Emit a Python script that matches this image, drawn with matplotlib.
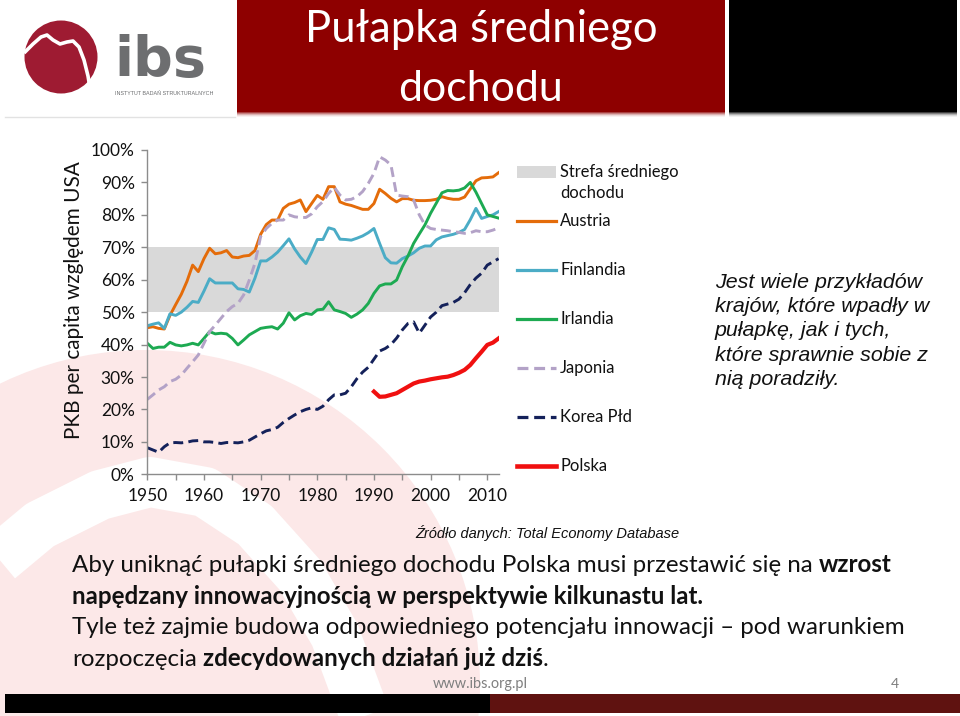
import matplotlib
matplotlib.use("Agg")
import matplotlib.pyplot as plt
from matplotlib.patches import Rectangle, Circle
from matplotlib.lines import Line2D
from matplotlib.ticker import MultipleLocator, FuncFormatter

# --- data (share of US GDP per capita, %) ---
years = list(range(1950, 2013))
austria = [45.2, 45.5, 45.0, 44.8, 49.0, 52.3, 55.5, 59.5, 64.5, 62.5,
           66.5, 69.7, 68.0, 68.3, 69.0, 67.0, 66.8, 67.3, 67.5, 69.0,
           74.0, 77.0, 78.4, 78.4, 82.0, 83.3, 83.8, 84.6, 81.0, 83.5,
           86.0, 84.8, 88.7, 88.7, 84.0, 83.3, 82.9, 82.3, 81.7, 81.7,
           83.5, 87.9, 86.6, 85.1, 84.0, 85.0, 85.0, 84.5, 84.4, 84.4,
           84.5, 84.8, 85.6, 85.1, 84.8, 84.8, 85.5, 88.0, 90.5, 91.4,
           91.5, 91.7, 93.0]
finlandia = [45.8, 46.3, 46.7, 45.0, 49.5, 49.0, 50.0, 51.5, 53.3, 53.0,
             56.5, 60.3, 59.0, 59.0, 59.0, 59.0, 57.2, 57.0, 56.2, 60.5,
             65.8, 65.8, 67.0, 68.5, 70.5, 72.6, 69.5, 67.0, 65.0, 68.5,
             72.4, 72.4, 76.0, 75.5, 72.5, 72.4, 72.2, 72.8, 73.5, 74.5,
             75.8, 71.2, 66.8, 65.2, 65.1, 66.5, 67.3, 68.3, 69.7, 70.4,
             70.4, 72.3, 73.2, 73.6, 74.0, 74.6, 75.5, 78.5, 82.0, 78.9,
             79.5, 80.0, 81.0]
irlandia = [40.4, 38.8, 39.2, 39.2, 40.7, 39.9, 39.6, 39.9, 40.4, 39.9,
            41.9, 44.0, 43.3, 43.5, 43.3, 41.9, 39.9, 41.4, 43.0, 44.0,
            45.0, 45.3, 45.5, 44.8, 46.6, 49.8, 47.6, 48.9, 49.6, 49.3,
            50.7, 50.9, 53.2, 50.7, 50.2, 49.6, 48.4, 49.4, 50.7, 52.7,
            55.8, 58.1, 58.7, 58.7, 59.9, 64.0, 67.3, 71.2, 74.1, 76.9,
            80.5, 83.6, 86.8, 87.5, 87.4, 87.6, 88.3, 90.0, 87.0, 83.5,
            80.0, 79.5, 79.0]
japonia = [23.1, 24.5, 26.0, 27.0, 28.6, 29.3, 30.6, 32.7, 34.7, 36.8,
           40.4, 44.0, 46.0, 48.1, 50.2, 51.7, 52.7, 55.3, 59.9, 65.1,
           73.3, 75.8, 77.4, 78.4, 78.4, 80.0, 79.4, 79.2, 79.2, 80.3,
           82.5, 84.1, 86.6, 88.5, 86.1, 84.6, 84.8, 85.6, 87.2, 89.7,
           92.8, 97.9, 96.9, 95.4, 86.1, 85.8, 85.6, 84.6, 80.0, 76.9,
           75.8, 75.5, 75.3, 75.1, 74.8, 74.6, 74.3, 74.5, 75.1, 74.8,
           74.8, 75.3, 76.0]
korea = [8.2, 7.5, 6.8, 8.5, 9.7, 9.8, 9.7, 9.9, 10.3, 10.4,
         10.0, 10.0, 9.8, 9.5, 9.8, 9.8, 9.7, 10.0, 10.5, 11.5,
         12.5, 13.4, 13.8, 14.5, 16.0, 17.2, 18.3, 19.3, 20.0, 20.5,
         20.0, 21.0, 23.0, 24.5, 24.5, 25.0, 27.0, 29.5, 31.5, 33.0,
         35.5, 38.0, 38.8, 40.0, 42.0, 44.5, 46.5, 47.0, 43.5, 46.0,
         48.5, 50.0, 52.0, 52.5, 53.0, 54.0, 56.0, 58.5, 60.5, 62.0,
         64.5, 65.5, 66.5]
polska_years = list(range(1990, 2013))
polska = [25.5, 23.9, 24.0, 24.5, 25.0, 26.0, 27.0, 28.0, 28.6, 28.9,
          29.3, 29.6, 29.9, 30.1, 30.6, 31.3, 32.2, 33.7, 35.8, 37.8,
          39.9, 40.6, 41.9]
band = (50, 70)

series = [
    ("Austria", years, austria, "#E46C0A", "-", 2.1),
    ("Finlandia", years, finlandia, "#4BACC6", "-", 2.1),
    ("Irlandia", years, irlandia, "#1DAA52", "-", 2.1),
    ("Japonia", years, japonia, "#B3A2C7", (0, (3.4, 1.8)), 2.1),
    ("Korea Płd", years, korea, "#14215A", (0, (3.4, 1.8)), 2.1),
    ("Polska", polska_years, polska, "#F01010", "-", 3.0),
]

CAL = ["Lato", "DejaVu Sans"]
ARI = ["Liberation Sans", "DejaVu Sans"]

W, H = 960, 716
fig = plt.figure(figsize=(W / 100, H / 100), dpi=100)
bg = fig.add_axes([0, 0, 1, 1])
bg.set_xlim(0, W)
bg.set_ylim(H, 0)
bg.axis("off")
rend = fig.canvas.get_renderer()


def fit(t, width):
    w = t.get_window_extent(rend).width
    t.set_fontsize(t.get_fontsize() * width / w)
    return t


def text_w(s, size, bold=False, family=CAL):
    t = bg.text(0, 0, s, fontsize=size, family=family,
                fontweight="bold" if bold else "normal")
    w = t.get_window_extent(rend).width
    t.remove()
    return w


def runs_w(runs, size):
    x = 0
    for s, bold in runs:
        core = s.rstrip(" ")
        x += text_w(core, size, bold)
        if core != s:
            x += text_w("a a", size, bold) - text_w("aa", size, bold)
    return x


def draw_runs(x, y, runs, size, color="#111111"):
    for s, bold in runs:
        core = s.rstrip(" ")
        t = bg.text(x, y, core, fontsize=size, family=CAL, color=color,
                    fontweight="bold" if bold else "normal",
                    ha="left", va="baseline")
        x += t.get_window_extent(rend).width
        if core != s:
            x += text_w("a a", size, bold) - text_w("aa", size, bold)


# --- slide decoration ---
bg.add_patch(Circle((146, 684), 334, color="#fce8e8", lw=0, zorder=0))
bg.plot([-20, 40, 100, 150, 205, 255, 300, 335, 365],
        [575, 525, 495, 482, 492, 525, 575, 635, 716],
        color="white", lw=36, solid_capstyle="butt", zorder=0.5)

bg.add_patch(Rectangle((237, 0), 488, 112, color="#8E0000", lw=0, zorder=1))
bg.add_patch(Rectangle((729, 0), 228, 112, color="#000000", lw=0, zorder=1))
for k, a in enumerate([0.75, 0.5, 0.3, 0.15, 0.06]):
    bg.add_patch(Rectangle((237, 112 + k), 488, 1, color="#8E0000", alpha=a,
                           lw=0, zorder=1))
    bg.add_patch(Rectangle((729, 112 + k), 228, 1, color="#000000", alpha=a,
                           lw=0, zorder=1))
bg.plot([5, 235], [117, 117], color="#e2e2e2", lw=1, zorder=1)

fit(bg.text(481, 42, "Pułapka średniego", color="white", family=CAL,
            fontsize=30, ha="center", va="baseline", zorder=2), 352)
fit(bg.text(481, 101, "dochodu", color="white", family=CAL,
            fontsize=30, ha="center", va="baseline", zorder=2), 165)

# logo
bg.add_patch(Circle((61, 57), 36.5, color="#9E1B32", lw=0, zorder=2))
bg.plot([24, 33, 41, 47, 53, 60, 67, 73, 79, 84, 88, 91],
        [53, 44, 37, 35, 40, 44, 42, 41, 47, 60, 76, 94],
        color="white", lw=2.6, solid_capstyle="butt", zorder=3)
fit(bg.text(114, 76, "ibs", color="#6D6E70", family=["DejaVu Sans"],
            fontweight="bold", fontsize=40, ha="left", va="baseline",
            zorder=2), 92)
fit(bg.text(115, 95, "INSTYTUT BADAŃ STRUKTURALNYCH", color="#6D6E70",
            family=ARI, fontsize=4, ha="left", va="baseline", zorder=2), 97)

# bottom bar and footer
bg.add_patch(Rectangle((5, 694), 485, 19, color="#000000", lw=0, zorder=1))
bg.add_patch(Rectangle((490, 694), 470, 19, color="#5F1210", lw=0, zorder=1))
fit(bg.text(433, 688, "www.ibs.org.pl", color="#7f7f7f", family=CAL,
            fontsize=10, ha="left", va="baseline", zorder=2), 95)
bg.text(899, 688, "4", color="#7f7f7f", family=CAL, fontsize=10,
        ha="right", va="baseline", zorder=2)

# --- chart ---
ax = fig.add_axes([147.3 / W, (H - 474.3) / H, (498.6 - 147.3) / W,
                   (474.3 - 150) / H])
ax.set_facecolor("none")
ax.axhspan(band[0], band[1], color="#D9D9D9", lw=0, zorder=1)
for name, xs, ys, col, ls, lw in series:
    ax.plot(xs, ys, color=col, linestyle=ls, lw=lw, zorder=2)
ax.set_xlim(1950, 2012)
ax.set_ylim(0, 100)
ax.yaxis.set_major_locator(MultipleLocator(10))
ax.yaxis.set_major_formatter(FuncFormatter(lambda v, p: f"{v:.0f}%"))
ax.xaxis.set_major_locator(MultipleLocator(5))
ax.xaxis.set_major_formatter(
    FuncFormatter(lambda v, p: f"{v:.0f}" if int(round(v)) % 10 == 0 else ""))
for s in ("top", "right"):
    ax.spines[s].set_visible(False)
for s in ("left", "bottom"):
    ax.spines[s].set_color("#8c8c8c")
    ax.spines[s].set_linewidth(1)
ax.tick_params(axis="both", direction="out", length=4, width=1,
               color="#8c8c8c", labelsize=12.5, labelcolor="#111111")
ax.tick_params(axis="y", pad=5)
ax.tick_params(axis="x", pad=6)
for lab in ax.get_xticklabels() + ax.get_yticklabels():
    lab.set_family(CAL)

ylab = bg.text(74, 300, "PKB per capita względem USA", rotation=90,
               family=CAL, fontsize=14, ha="center", va="center",
               color="#111111")
ylab.set_fontsize(ylab.get_fontsize() * 280 / ylab.get_window_extent(rend).height)

# legend
leg_x0, leg_x1, leg_tx = 517, 556, 560
leg_y0, leg_dy = 172, 49
bg.add_patch(Rectangle((leg_x0, leg_y0 - 6), leg_x1 - leg_x0, 12,
                       color="#D9D9D9", lw=0))
t = fit(bg.text(leg_tx, leg_y0, "Strefa średniego", family=CAL, fontsize=11,
                ha="left", va="center", color="#111111"), 119)
leg_fs = t.get_fontsize()
bg.text(leg_tx, leg_y0 + 21, "dochodu", family=CAL, fontsize=leg_fs,
        ha="left", va="center", color="#111111")
for i, (name, xs, ys, col, ls, lw) in enumerate(series, start=1):
    y = leg_y0 + leg_dy * i
    bg.add_line(Line2D([leg_x0, leg_x1], [y, y], color=col, linestyle=ls,
                       lw=lw * 1.1))
    bg.text(leg_tx, y, name, family=CAL, fontsize=leg_fs, ha="left",
            va="center", color="#111111")

# side note
note = ["Jest wiele przykładów", "krajów, które wpadły w",
        "pułapkę, jak i tych,", "które sprawnie sobie z", "nią poradziły."]
t = fit(bg.text(715, 288, note[0], family=ARI, style="italic", fontsize=13,
                ha="left", va="baseline", color="#111111"), 206)
for i, line in enumerate(note[1:], start=1):
    bg.text(715, 288 + 24.2 * i, line, family=ARI, style="italic",
            fontsize=t.get_fontsize(), ha="left", va="baseline",
            color="#111111")

fit(bg.text(415, 538, "Źródło danych: Total Economy Database", family=ARI,
            style="italic", fontsize=10, ha="left", va="baseline",
            color="#111111"), 265)

# body text
body = [
    [("Aby uniknąć pułapki średniego dochodu Polska musi przestawić się na ", False),
     ("wzrost", True)],
    [("napędzany innowacyjnością w perspektywie kilkunastu lat.", True)],
    [("Tyle też zajmie budowa odpowiedniego potencjału innowacji – pod warunkiem", False)],
    [("rozpoczęcia ", False), ("zdecydowanych działań już dziś", True), (".", False)],
]
base = 16
size = base * 825 / runs_w(body[0], base)
for i, runs in enumerate(body):
    draw_runs(72, 572.5 + 31 * i, runs, size)

fig.savefig("out.png", dpi=100)
